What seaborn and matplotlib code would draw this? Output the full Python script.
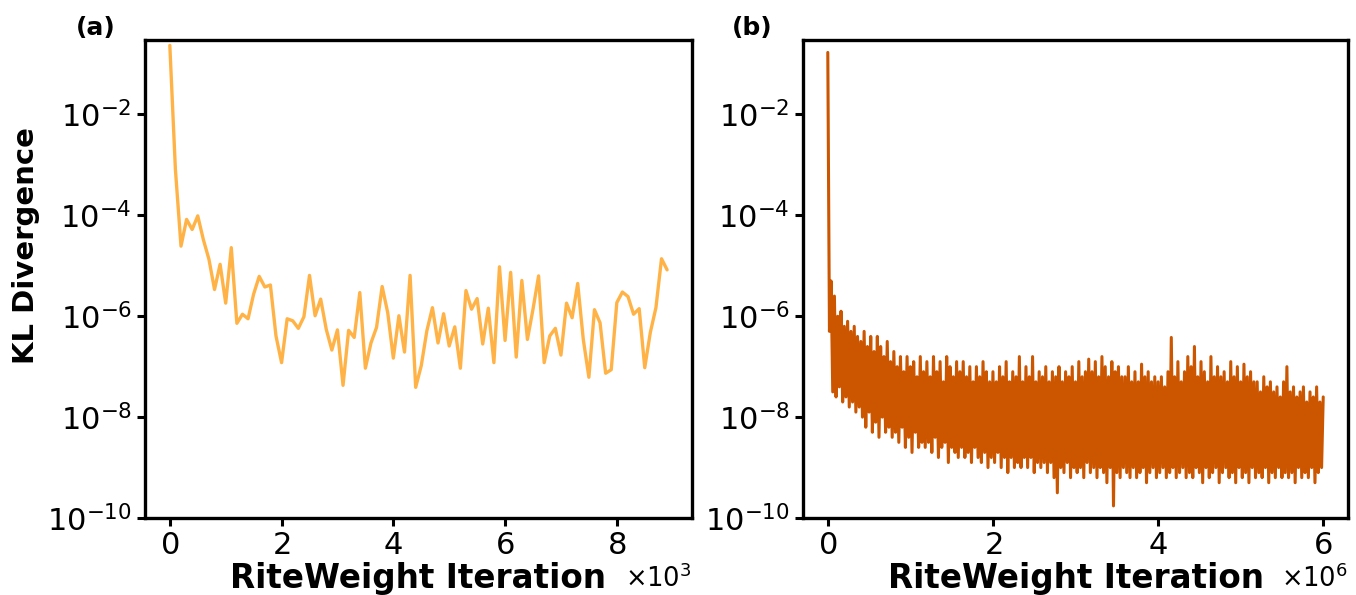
import numpy as np
import pandas as pd
import matplotlib
matplotlib.use("Agg")
import matplotlib.pyplot as plt
from matplotlib.ticker import NullLocator
import seaborn as sns

# ---------------- data ----------------
# panel (a): iterations 0..8900 step 100, log10(KL divergence)
iter_a = np.arange(0, 9000, 100)
log_kl_a = [
    -0.63, -3.09, -4.61, -4.08, -4.28, -4.01, -4.48, -4.87, -5.47, -4.97,
    -5.74, -4.64, -6.14, -5.96, -6.05, -5.56, -5.21, -5.42, -5.38, -6.39,
    -6.92, -6.05, -6.09, -6.24, -6.01, -5.19, -5.99, -5.66, -6.26, -6.67,
    -6.27, -7.37, -6.28, -6.42, -5.53, -7.03, -6.53, -6.22, -5.41, -5.93,
    -6.83, -5.99, -6.71, -5.19, -7.41, -6.98, -6.29, -5.83, -6.53, -5.95,
    -6.59, -6.21, -7.03, -5.49, -5.86, -5.65, -6.55, -5.84, -6.92, -5.02,
    -6.48, -5.13, -6.81, -5.29, -6.46, -5.86, -5.20, -6.92, -6.39, -6.24,
    -6.77, -5.74, -6.03, -5.35, -6.46, -7.21, -5.87, -6.13, -7.13, -7.06,
    -5.73, -5.52, -5.61, -5.96, -5.85, -7.02, -6.32, -5.83, -4.86, -5.08,
]

# panel (b): iterations 0..6e6 step 2e4, log10(KL divergence)
iter_b = np.arange(0, 6_000_001, 20_000)
log_kl_b = [
    -0.77, -6.3, -5.3, -7.5, -5.6, -7.6, -6.0, -7.4, -5.9, -7.7, -6.2, -7.6, -6.1, -7.8, -6.3, -7.7, -6.2, -7.9, -6.4, -7.8,
    -6.5, -8.0, -6.3, -8.2, -6.6, -7.9, -6.4, -8.3, -6.7, -8.1, -6.4, -8.4, -6.6, -8.0, -6.8, -8.3, -6.5, -8.2, -6.9, -8.4,
    -6.7, -8.3, -7.0, -8.5, -6.8, -8.2, -7.1, -8.6, -6.8, -8.4, -7.0, -8.7, -6.9, -8.3, -7.2, -8.6, -6.8, -8.5, -7.1, -8.6,
    -6.9, -8.5, -7.2, -8.7, -6.8, -8.4, -7.1, -8.8, -6.9, -8.6, -7.3, -8.5, -6.8, -8.9, -7.0, -8.6, -7.2, -8.7, -6.9, -8.8,
    -7.1, -8.6, -6.9, -8.8, -7.2, -8.7, -7.0, -8.9, -7.3, -8.6, -7.0, -8.8, -7.2, -8.9, -6.9, -8.7, -7.1, -9.0, -7.3, -8.8,
    -7.1, -8.9, -7.3, -8.7, -7.0, -9.0, -7.2, -8.8, -6.9, -9.1, -7.3, -8.8, -7.1, -9.0, -7.2, -8.9, -6.8, -9.0, -7.3, -8.8,
    -7.0, -9.0, -7.2, -8.8, -6.8, -9.1, -7.3, -8.9, -7.1, -9.0, -7.2, -8.9, -7.0, -9.1, -7.3, -8.9, -7.1, -9.2, -7.2, -9.5,
    -7.0, -9.0, -7.3, -9.1, -7.1, -8.9, -7.2, -9.2, -7.0, -9.0, -7.3, -9.1, -6.9, -9.0, -7.2, -9.2, -7.1, -8.9, -6.85, -9.1,
    -7.1, -9.0, -6.9, -9.2, -7.2, -9.0, -6.8, -9.1, -7.0, -9.3, -7.2, -9.0, -6.9, -9.76, -7.1, -9.1, -7.0, -9.2, -7.2, -9.0,
    -7.2, -9.1, -7.0, -9.2, -7.3, -9.0, -7.1, -9.2, -7.3, -9.1, -6.95, -9.0, -7.2, -9.3, -7.1, -9.1, -7.3, -9.0, -7.2, -9.2,
    -7.3, -9.1, -7.2, -9.0, -7.4, -9.2, -7.1, -9.1, -6.42, -9.0, -7.2, -9.2, -6.9, -9.1, -7.3, -9.0, -7.1, -9.2, -6.8, -9.1,
    -7.0, -9.2, -6.6, -9.0, -7.2, -9.1, -6.9, -9.3, -7.1, -9.0, -7.3, -9.2, -6.8, -9.1, -7.2, -9.0, -7.0, -9.3, -7.2, -9.1,
    -7.1, -9.0, -7.3, -9.2, -6.9, -9.1, -7.2, -9.3, -7.0, -9.0, -7.3, -9.2, -6.95, -9.1, -7.2, -9.3, -7.1, -9.0, -7.3, -9.2,
    -7.3, -9.1, -7.5, -9.2, -7.2, -9.0, -7.4, -9.3, -7.3, -9.1, -7.5, -9.2, -7.4, -9.0, -7.6, -9.2, -7.3, -9.1, -7.0, -9.2,
    -7.5, -9.1, -7.4, -9.3, -7.6, -9.0, -7.5, -9.2, -7.4, -9.1, -7.7, -9.2, -7.5, -9.0, -7.6, -9.3, -7.4, -9.1, -7.7, -9.0,
    -7.6,
]

y_ticks = [1e-10, 1e-8, 1e-6, 1e-4, 1e-2]
panel_labels = ["(a)", "(b)"]
x_label = "RiteWeight Iteration"
y_label = "KL Divergence"
color_a = "#FFB347"
color_b = "#CC5500"

df_a = pd.DataFrame({"iteration": iter_a, "kl": 10.0 ** np.array(log_kl_a)})
df_b = pd.DataFrame({"iteration": iter_b, "kl": 10.0 ** np.array(log_kl_b)})

# ---------------- style ----------------
sns.set_theme(style="ticks")
plt.rcParams["font.family"] = ["DejaVu Sans"]
plt.rcParams["axes.linewidth"] = 2.4
plt.rcParams["xtick.major.width"] = 2.2
plt.rcParams["ytick.major.width"] = 2.2
plt.rcParams["xtick.major.size"] = 6
plt.rcParams["ytick.major.size"] = 6
plt.rcParams["axes.edgecolor"] = "black"
plt.rcParams["xtick.color"] = "black"
plt.rcParams["ytick.color"] = "black"
plt.rcParams["text.color"] = "black"
plt.rcParams["axes.labelcolor"] = "black"

fig = plt.figure(figsize=(13.56, 5.95), dpi=100)
ax_a = fig.add_axes([0.1069, 0.1294, 0.4034, 0.8034])
ax_b = fig.add_axes([0.5922, 0.1294, 0.4019, 0.8034])

sns.lineplot(data=df_a, x="iteration", y="kl", ax=ax_a, color=color_a,
             linewidth=2.4, estimator=None)
sns.lineplot(data=df_b, x="iteration", y="kl", ax=ax_b, color=color_b,
             linewidth=2.2, estimator=None)

for ax, lab, lx in zip([ax_a, ax_b], panel_labels, [96 / 1356, 752 / 1356]):
    ax.set_yscale("log")
    ax.set_ylim(1e-10, 0.3)
    ax.set_yticks(y_ticks)
    ax.yaxis.set_minor_locator(NullLocator())
    ax.ticklabel_format(axis="x", style="sci", scilimits=(0, 0), useMathText=True)
    ax.tick_params(axis="both", labelsize=22, direction="out", colors="black")
    ax.xaxis.get_offset_text().set_fontsize(18.5)
    ax.set_xlabel(x_label, fontsize=23.5, fontweight="bold", labelpad=1,
                  color="black")
    ax.set_ylabel("")
    fig.text(lx, 1 - 28 / 595, lab, fontsize=18, fontweight="bold",
             ha="center", va="center", color="black")

ax_a.set_ylabel(y_label, fontsize=21, fontweight="bold", color="black")
ax_a.yaxis.set_label_coords(-0.192, 0.569)

fig.savefig("out.png", dpi=100)
